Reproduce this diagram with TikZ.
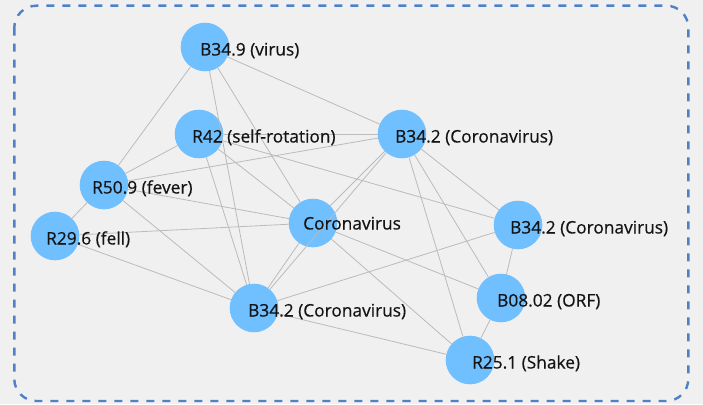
\documentclass[tikz,border=0pt]{standalone}
\usepackage{fontspec}
\setmainfont{Open Sans}
\newfontfamily\kwfont{Open Sans}[FakeBold=0.5]
\usepackage{tikz}

\definecolor{paper}{HTML}{F0F0F0}
\definecolor{frameblue}{HTML}{4F81C9}
\definecolor{nodeblue}{HTML}{70BFFF}
\definecolor{linkgray}{HTML}{BBBBBB}

\tikzset{
  kw/.style={circle, fill=nodeblue, minimum size=48.6pt, inner sep=0pt},
  kwtext/.style={anchor=base west, inner sep=0pt, text=black!92, font=\kwfont\fontsize{17.3}{19}\selectfont},
  link/.style={draw=linkgray, line width=0.8pt},
}

\begin{document}
\begin{tikzpicture}[x=1pt,y=-1pt]
\useasboundingbox[fill=paper] (0,0) rectangle (703,404);
\draw[frameblue, line width=2.4pt, dash pattern=on 8pt off 8pt, rounded corners=22pt] (14.3,5.7) rectangle (688.3,401);

% keywords
\node[kw] (V) at (205,47) {};
\node[kw] (SR) at (199,134) {};
\node[kw] (F) at (104,185) {};
\node[kw] (FL) at (55,236) {};
\node[kw] (C) at (313,223) {};
\node[kw] (CB1) at (402,134) {};
\node[kw] (CB2) at (518,225) {};
\node[kw] (CB3) at (254,308) {};
\node[kw] (ORF) at (501,298) {};
\node[kw] (SH) at (470,360) {};

% links
\draw[link] (V) -- (F);
\draw[link] (V) -- (CB1);
\draw[link] (V) -- (CB3);
\draw[link] (V) -- (C);
\draw[link] (SR) -- (F);
\draw[link] (SR) -- (CB1);
\draw[link] (SR) -- (CB3);
\draw[link] (SR) -- (C);
\draw[link] (SR) -- (CB2);
\draw[link] (F) -- (FL);
\draw[link] (F) -- (CB1);
\draw[link] (F) -- (C);
\draw[link] (F) -- (CB3);
\draw[link] (FL) -- (C);
\draw[link] (FL) -- (CB3);
\draw[link] (C) -- (CB1);
\draw[link] (C) -- (CB3);
\draw[link] (C) -- (ORF);
\draw[link] (C) -- (SH);
\draw[link] (CB1) -- (CB3);
\draw[link] (CB1) -- (SH);
\draw[link] (CB1) -- (ORF);
\draw[link] (CB1) -- (CB2);
\draw[link] (CB2) -- (CB3);
\draw[link] (CB2) -- (ORF);
\draw[link] (CB3) -- (SH);
\draw[link] (ORF) -- (SH);

% labels
\node[kwtext] (V-t) at (200,55.5) {B34.9 (virus)};
\node[kwtext] (SR-t) at (192,142.5) {R42 (self-rotation)};
\node[kwtext] (F-t) at (92,193.5) {R50.9 (fever)};
\node[kwtext] (FL-t) at (46,244.5) {R29.6 (fell)};
\node[kwtext] (C-t) at (303,229.5) {Coronavirus};
\node[kwtext] (CB1-t) at (395,142.5) {B34.2 (Coronavirus)};
\node[kwtext] (CB2-t) at (510,233.5) {B34.2 (Coronavirus)};
\node[kwtext] (CB3-t) at (248,316.5) {B34.2 (Coronavirus)};
\node[kwtext] (ORF-t) at (497,306.5) {B08.02 (ORF)};
\node[kwtext] (SH-t) at (472,368.5) {R25.1 (Shake)};
\end{tikzpicture}
\end{document}
